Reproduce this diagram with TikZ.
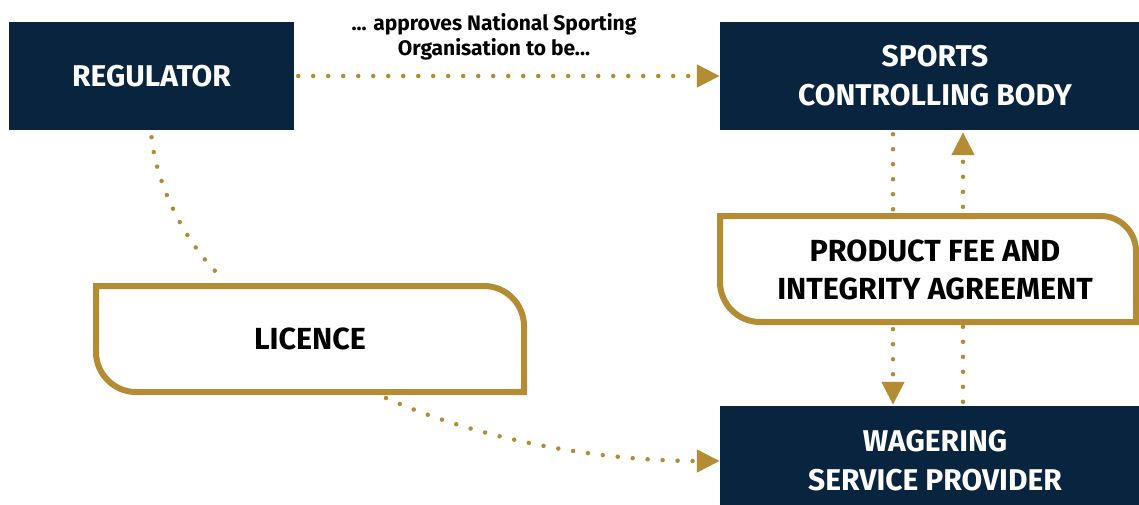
\documentclass[tikz,border=0pt]{standalone}
\usepackage{fontspec}
\setmainfont{Fira Sans}
\usetikzlibrary{arrows.meta,calc}
\definecolor{navy}{RGB}{8,36,62}
\definecolor{gold}{RGB}{180,140,52}
\tikzset{
  navybox/.style={fill=navy, draw=none, text=white, align=center,
    font=\fontsize{30}{39}\selectfont\bfseries, inner sep=0pt},
  goldline/.style={draw=gold, line width=6pt, fill=white, line join=miter},
  boxtext/.style={align=center, text=black, inner sep=0pt,
    font=\fontsize{30.5}{38}\selectfont\bfseries},
  dots/.style={draw=gold, line width=4.5pt, line cap=round,
    dash pattern=on 0pt off 15pt},
  tip/.style={-{Triangle[length=23pt,width=22pt]}},
}
\begin{document}
\begin{tikzpicture}[x=1pt,y=-1pt]
\useasboundingbox (0,0) rectangle (1139,504);
\clip (0,0) rectangle (1139,504);
\fill[white] (0,0) rectangle (1139,504);

% navy boxes
\node[navybox, minimum width=285pt, minimum height=108pt] (reg) at (151.5,76) {REGULATOR};
\node[navybox, minimum width=430pt, minimum height=108pt] (sports) at (935,76) {SPORTS\\CONTROLLING BODY};
\node[navybox, minimum width=430pt, minimum height=110pt] (wag) at (935,461) {WAGERING\\SERVICE PROVIDER};

% top label
\node[align=center, inner sep=0pt, font=\fontsize{21}{25}\selectfont\bfseries] (lbl) at (494,37)
  {... approves National Sporting\\Organisation to be...};

% horizontal arrow
\draw[dots, tip, shorten <=4pt] (reg.east) -- (sports.west);

% vertical arrows between sports and wagering
\coordinate (sL) at ([xshift=-42pt]sports.south);
\coordinate (wL) at ([xshift=-42pt]wag.north);
\coordinate (sR) at ([xshift=28pt,yshift=-2pt]sports.south);
\coordinate (wR) at ([xshift=28pt]wag.north);
\draw[dots, tip, shorten <=4pt, shorten >=1pt] (sL) -- (wL);
\draw[dots, tip, shorten <=4pt] (wR) -- (sR);

% product fee box
\draw[goldline] (720,216) -- (1101,216) .. controls (1120,216) and (1136,232) .. (1136,251)
  -- (1136,322) -- (760,322) .. controls (738,322) and (720,304) .. (720,282) -- cycle;
\node[boxtext] (pf) at (935,270) {PRODUCT FEE AND\\INTEGRITY AGREEMENT};

% licence box
\draw[goldline] (96,286) -- (484,286) .. controls (506,286) and (524,304) .. (524,326)
  -- (524,392) -- (136,392) .. controls (114,392) and (96,374) .. (96,352) -- cycle;
\node[boxtext] (lic) at (310,339) {LICENCE};

% curved connectors
\coordinate (regOut) at ([yshift=-7pt]reg.south);
\coordinate (licIn) at (217,273);
\draw[dots] (regOut) .. controls (156,180) and (180,235) .. (licIn);
\coordinate (licOut) at (386,398);
\draw[dots, tip] (licOut) .. controls (480,440) and (600,461) .. (wag.west);
\end{tikzpicture}
\end{document}
